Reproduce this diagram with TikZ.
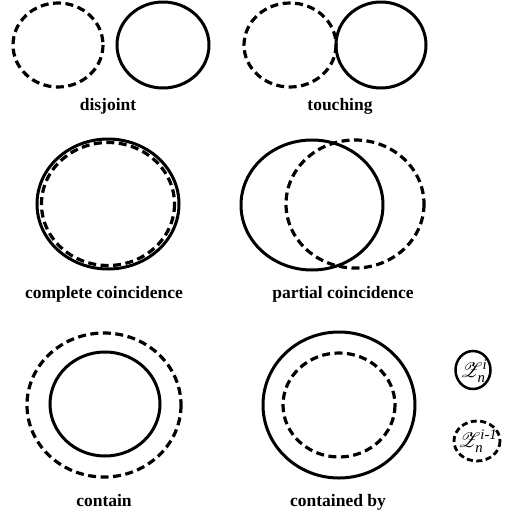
\documentclass[tikz,border=0pt]{standalone}
\usepackage{amsmath}
\usepackage{graphicx}
\usepackage{mathrsfs}
\usepackage{fontspec}
\setmainfont{Liberation Serif}
\tikzset{
  solidc/.style={draw=black, line width=3pt},
  dashc/.style={draw=black, line width=3.2pt, dash pattern=on 8pt off 4.5pt},
  lbl/.style={anchor=base, font=\fontsize{17.5}{20}\selectfont\bfseries, inner sep=0pt},
  legend/.style={inner sep=0pt}
}
\newcommand{\legZ}[1]{\scalebox{2.1}{$\mathscr{Z}_{\text{\itshape n}}^{\text{\itshape #1}}$}}
\begin{document}
\begin{tikzpicture}[x=1pt,y=-1pt]
\useasboundingbox (0,0) rectangle (506,517);
% disjoint
\draw[dashc] (58,45) ellipse [x radius=45, y radius=42];
\draw[solidc] (163,45) ellipse [x radius=46, y radius=43];
\node[lbl] (l1) at (108,110) {disjoint};
% touching
\draw[dashc] (290,45) ellipse [x radius=46, y radius=42];
\draw[solidc] (381,45) ellipse [x radius=45, y radius=43];
\node[lbl] (l2) at (340,110) {touching};
% complete coincidence
\draw[solidc] (108,204) ellipse [x radius=71, y radius=65];
\draw[dashc] (108,204) ellipse [x radius=66.5, y radius=61.5];
\node[lbl] (l3) at (104,298) {complete coincidence};
% partial coincidence
\draw[solidc] (312,205) ellipse [x radius=71, y radius=65];
\draw[dashc] (355,204) ellipse [x radius=69, y radius=64];
\node[lbl] (l4) at (343,298) {partial coincidence};
% contain
\draw[dashc] (104,405) ellipse [x radius=77, y radius=72];
\draw[solidc] (105,404) ellipse [x radius=55, y radius=52];
\node[lbl] (l5) at (104,506) {contain};
% contained by
\draw[solidc] (339,405) ellipse [x radius=76, y radius=73];
\draw[dashc] (339,405) ellipse [x radius=56, y radius=52];
\node[lbl] (l6) at (338,506) {contained by};
% legend
\draw[solidc, line width=2.5pt] (473,370) ellipse [x radius=17.5, y radius=19];
\node[legend] (z1) at (474,371) {\legZ{i}};
\draw[dashc, line width=2.8pt, dash pattern=on 6pt off 3.5pt] (477,441) ellipse [x radius=23, y radius=20];
\node[legend] (z2) at (478,441) {\legZ{i-1}};
\end{tikzpicture}
\end{document}
